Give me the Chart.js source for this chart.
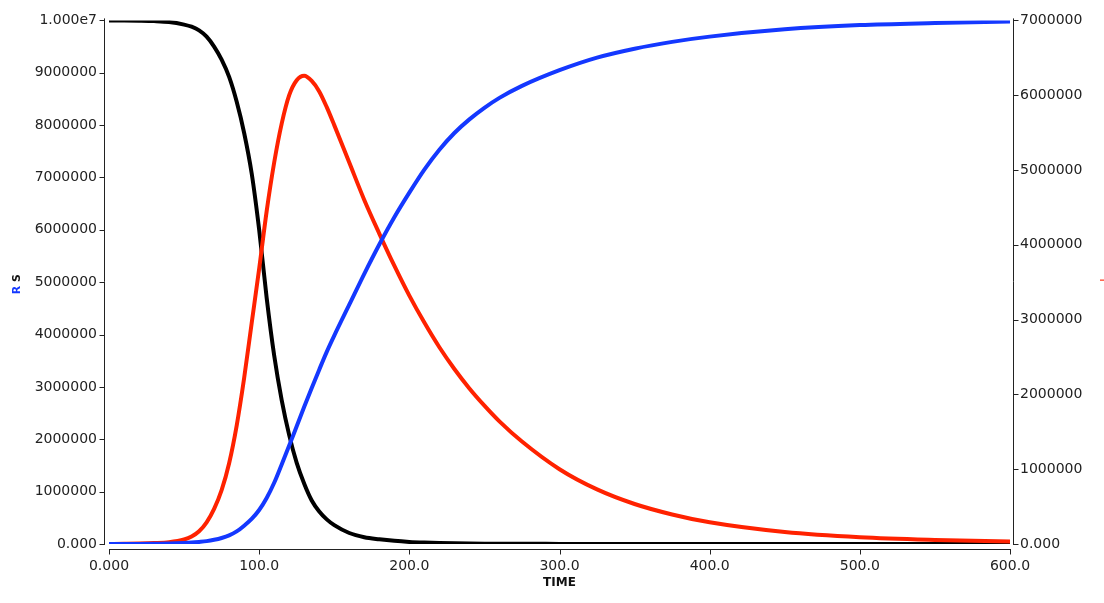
<!DOCTYPE html>
<html>
<head>
<meta charset="utf-8">
<script src="https://cdn.jsdelivr.net/npm/chart.js@4/dist/chart.umd.min.js"></script>
<style>
  html, body { margin: 0; padding: 0; background: #ffffff; }
  #wrap { width: 1104px; height: 603px; }
</style>
</head>
<body>
<div id="wrap"><canvas id="c" width="1104" height="603"></canvas></div>
<script>
// ---- data ----
const times = [0,10,20,30,40,50,55,60,65,70,75,80,85,90,95,100,105,110,115,120,125,130,135,140,145,150,
  160,170,180,190,200,210,220,230,240,250,260,275,300,325,350,375,400,450,500,550,600];

const sValues = [9999000,9998000,9995000,9988000,9970000,9920000,9880000,9810000,9690000,9500000,9250000,
  8920000,8450000,7850000,7080000,6000000,4700000,3600000,2750000,2080000,1550000,1150000,830000,620000,
  470000,360000,210000,130000,90000,60000,40000,28000,20000,14000,10000,7000,5000,3500,2000,1500,1000,800,
  600,400,250,150,100];

const iValues = [1000,3000,6000,12000,24000,60000,100000,170000,290000,470000,720000,1080000,1580000,
  2220000,2950000,3680000,4450000,5100000,5620000,6000000,6200000,6260000,6190000,6050000,5840000,5600000,
  5100000,4600000,4150000,3720000,3320000,2960000,2630000,2340000,2080000,1850000,1640000,1370000,1000000,
  730000,535000,395000,290000,160000,90000,55000,35000];

const rValues = [0,500,1500,4000,9000,20000,28000,40000,55000,80000,115000,165000,240000,350000,480000,
  650000,880000,1170000,1520000,1880000,2250000,2620000,2980000,3330000,3670000,3980000,4570000,5160000,
  5720000,6240000,6710000,7150000,7530000,7850000,8110000,8330000,8520000,8750000,9050000,9290000,9460000,
  9590000,9690000,9830000,9910000,9950000,9980000];

const xTicks = [0,100,200,300,400,500,600];
const xTickLabels = ["0.000","100.0","200.0","300.0","400.0","500.0","600.0"];
const yLeftTicks = [0,1000000,2000000,3000000,4000000,5000000,6000000,7000000,8000000,9000000,10000000];
const yLeftLabels = ["0.000","1000000","2000000","3000000","4000000","5000000","6000000","7000000","8000000","9000000","1.000e7"];
const yRightTicks = [0,1000000,2000000,3000000,4000000,5000000,6000000,7000000];
const yRightLabels = ["0.000","1000000","2000000","3000000","4000000","5000000","6000000","7000000"];
const xTitle = "TIME";
const seriesNames = ["S","I","R"];

// ---- build ----
const toPts = (vals) => times.map((t, i) => ({ x: t, y: vals[i] }));
const FONT = "'DejaVu Sans', Verdana, sans-serif";

function labelFor(ticks, labels) {
  return function (v) {
    const k = ticks.indexOf(v);
    return k >= 0 ? labels[k] : "";
  };
}

const axisPlugin = {
  id: "axisPlugin",
  afterDraw(chart) {
    const ctx = chart.ctx;
    const a = chart.chartArea;
    const xs = chart.scales.x, yl = chart.scales.y, yr = chart.scales.y1;
    ctx.save();
    ctx.strokeStyle = "#222";
    ctx.lineWidth = 1;
    // left axis
    const lx = a.left - 4.5;
    ctx.beginPath();
    ctx.moveTo(lx, yl.getPixelForValue(10000000) - 2);
    ctx.lineTo(lx, yl.getPixelForValue(0) + 1);
    yLeftTicks.forEach(v => {
      const p = Math.round(yl.getPixelForValue(v)) + 0.5;
      ctx.moveTo(lx, p); ctx.lineTo(lx - 5, p);
    });
    ctx.stroke();
    // bottom axis
    const by = a.bottom + 5.5;
    ctx.beginPath();
    ctx.moveTo(xs.getPixelForValue(0), by);
    ctx.lineTo(xs.getPixelForValue(600) + 1, by);
    xTicks.forEach(v => {
      const p = Math.round(xs.getPixelForValue(v)) + 0.5;
      ctx.moveTo(p, by); ctx.lineTo(p, by + 5);
    });
    ctx.stroke();
    // right axis
    const rx = a.right + 3.5;
    ctx.beginPath();
    ctx.moveTo(rx, yr.getPixelForValue(7000000) - 2);
    ctx.lineTo(rx, yr.getPixelForValue(0) + 1);
    yRightTicks.forEach(v => {
      const p = Math.round(yr.getPixelForValue(v)) + 0.5;
      ctx.moveTo(rx, p); ctx.lineTo(rx + 5, p);
    });
    ctx.stroke();

    // x title
    ctx.fillStyle = "#111";
    ctx.font = "bold 12px " + FONT;
    ctx.textAlign = "center";
    ctx.textBaseline = "middle";
    ctx.fillText(xTitle, (a.left + a.right) / 2, a.bottom + 39);

    // left title "R S" (R blue, S black), rotated
    ctx.save();
    ctx.translate(17, (a.top + a.bottom) / 2 + 2);
    ctx.rotate(-Math.PI / 2);
    ctx.font = "bold 11px " + FONT;
    ctx.textBaseline = "middle";
    ctx.textAlign = "left";
    const full = seriesNames[2] + " " + seriesNames[0];
    const w = ctx.measureText(full).width;
    let x0 = -w / 2;
    ctx.fillStyle = "#1438ff";
    ctx.fillText(seriesNames[2], x0, 0);
    x0 += ctx.measureText(seriesNames[2] + " ").width;
    ctx.fillStyle = "#111";
    ctx.fillText(seriesNames[0], x0, 0);
    ctx.restore();

    // right title "I" (red), rotated, mostly cut off by the edge
    ctx.save();
    ctx.translate(1100, (a.top + a.bottom) / 2 - 2);
    ctx.rotate(Math.PI / 2);
    ctx.font = "11px " + FONT;
    ctx.textAlign = "center";
    ctx.textBaseline = "alphabetic";
    ctx.fillStyle = "#ff2200";
    ctx.fillText(seriesNames[1], 0, 0);
    ctx.restore();

    ctx.restore();
  }
};

new Chart(document.getElementById("c"), {
  type: "line",
  data: {
    datasets: [
      { label: "R", data: toPts(rValues), yAxisID: "y", borderColor: "#1438ff" },
      { label: "I", data: toPts(iValues), yAxisID: "y1", borderColor: "#ff2200" },
      { label: "S", data: toPts(sValues), yAxisID: "y", borderColor: "#000000" }
    ]
  },
  options: {
    responsive: false,
    animation: false,
    events: [],
    layout: { padding: { top: 17, left: 0, right: 0, bottom: 0 } },
    elements: {
      line: { borderWidth: 4, cubicInterpolationMode: "monotone", fill: false, borderCapStyle: "round", borderJoinStyle: "round" },
      point: { radius: 0 }
    },
    plugins: { legend: { display: false }, tooltip: { enabled: false }, title: { display: false } },
    scales: {
      x: {
        type: "linear", min: 0, max: 600,
        afterFit(s) { s.height = 59; },
        afterBuildTicks(s) { s.ticks = xTicks.map(v => ({ value: v })); },
        grid: { display: false, drawTicks: false },
        border: { display: false },
        ticks: { padding: 14, color: "#222", font: { family: FONT, size: 14 }, maxRotation: 0, autoSkip: false,
                 callback: labelFor(xTicks, xTickLabels) }
      },
      y: {
        type: "linear", position: "left", min: 0, max: 10000000,
        afterFit(s) { s.width = 109; },
        afterBuildTicks(s) { s.ticks = yLeftTicks.map(v => ({ value: v })); },
        grid: { display: false, drawTicks: false },
        border: { display: false },
        ticks: { padding: 12, color: "#222", font: { family: FONT, size: 14 }, autoSkip: false,
                 callback: labelFor(yLeftTicks, yLeftLabels) }
      },
      y1: {
        type: "linear", position: "right", min: 0, max: 7000000,
        afterFit(s) { s.width = 94; },
        afterBuildTicks(s) { s.ticks = yRightTicks.map(v => ({ value: v })); },
        grid: { display: false, drawTicks: false },
        border: { display: false },
        ticks: { padding: 10, color: "#222", font: { family: FONT, size: 14 }, autoSkip: false,
                 callback: labelFor(yRightTicks, yRightLabels) }
      }
    }
  },
  plugins: [axisPlugin]
});
</script>
</body>
</html>
